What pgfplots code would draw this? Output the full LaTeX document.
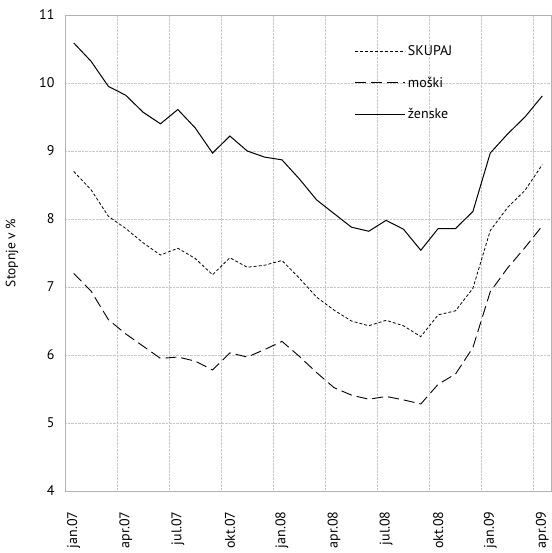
\documentclass[border=0pt]{standalone}
\usepackage{fontspec}
\setmainfont{PT Sans}
\usepackage{pgfplots}
\pgfplotsset{compat=1.18}
\begin{document}
\begin{tikzpicture}
\begin{axis}[
  scale only axis,
  width=486pt, height=476pt,
  xmin=-0.5, xmax=27.5, ymin=4, ymax=11,
  xtick={0,3,...,27},
  xticklabels={jan.07,apr.07,jul.07,okt.07,jan.08,apr.08,jul.08,okt.08,jan.09,apr.09},
  minor xtick={2.5,5.5,...,26.5},
  ytick={4,5,...,11},
  xmajorgrids=false, xminorgrids=true, ymajorgrids=true,
  grid style={densely dotted, black!22},
  minor grid style={densely dotted, black!22},
  major tick length=0pt, minor tick length=0pt,
  axis line style={black!30, line width=0.8pt},
  /pgf/number format/assume math mode=true,
  tick label style={font=\fontsize{14}{16}\selectfont},
  xticklabel style={rotate=90, anchor=east, xshift=-17pt},
  yticklabel style={xshift=-7pt},
  ylabel={Stopnje v \%},
  ylabel style={font=\fontsize{13.5}{16}\selectfont, yshift=14pt},
  legend style={draw=none, fill=none, at={(rel axis cs:0.59,0.945)}, anchor=north west,
    font=\fontsize{14}{16}\selectfont, row sep=16pt},
  legend cell align=left,
  legend image code/.code={\draw[#1] (0pt,0pt) -- (50pt,0pt);},
]
\addplot[black, line width=0.8pt, dash pattern=on 3pt off 2pt] coordinates {
  (0,8.70) (1,8.43) (2,8.04) (3,7.86) (4,7.65) (5,7.47) (6,7.57) (7,7.42)
  (8,7.18) (9,7.43) (10,7.29) (11,7.32) (12,7.39) (13,7.13) (14,6.85) (15,6.66)
  (16,6.50) (17,6.43) (18,6.51) (19,6.43) (20,6.27) (21,6.59) (22,6.65) (23,6.98)
  (24,7.83) (25,8.17) (26,8.42) (27,8.80)
};
\addlegendentry{SKUPAJ}
\addplot[black, line width=0.9pt, dash pattern=on 11pt off 5pt] coordinates {
  (0,7.20) (1,6.94) (2,6.52) (3,6.31) (4,6.13) (5,5.95) (6,5.97) (7,5.91)
  (8,5.78) (9,6.03) (10,5.97) (11,6.08) (12,6.20) (13,5.98) (14,5.74) (15,5.52)
  (16,5.41) (17,5.35) (18,5.39) (19,5.34) (20,5.28) (21,5.57) (22,5.72) (23,6.11)
  (24,6.93) (25,7.28) (26,7.58) (27,7.90)
};
\addlegendentry{moški}
\addplot[black, line width=1pt] coordinates {
  (0,10.59) (1,10.32) (2,9.95) (3,9.82) (4,9.57) (5,9.40) (6,9.61) (7,9.34)
  (8,8.97) (9,9.22) (10,9.00) (11,8.91) (12,8.87) (13,8.59) (14,8.28) (15,8.08)
  (16,7.88) (17,7.82) (18,7.98) (19,7.85) (20,7.54) (21,7.86) (22,7.86) (23,8.11)
  (24,8.97) (25,9.25) (26,9.50) (27,9.81)
};
\addlegendentry{ženske}
\coordinate (bl) at (rel axis cs:0,0);
\coordinate (tr) at (rel axis cs:1,1);
\end{axis}
\pgfresetboundingbox
\path[use as bounding box] ([shift={(-65pt,-62pt)}]bl) rectangle ([shift={(1pt,15pt)}]tr);
\end{tikzpicture}
\end{document}
